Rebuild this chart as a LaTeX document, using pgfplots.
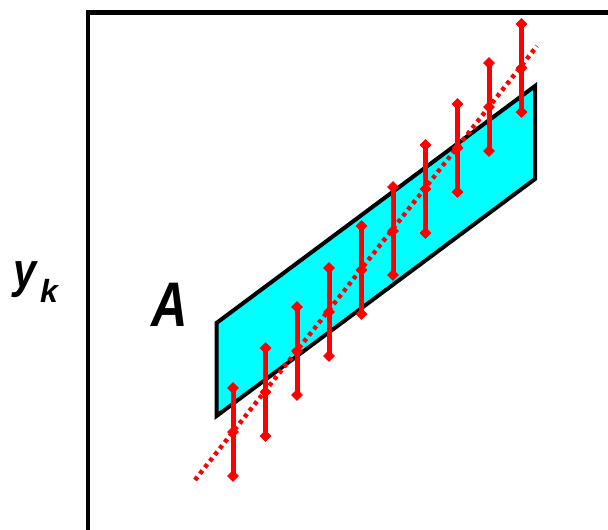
\documentclass[border=0pt]{standalone}
\usepackage{pgfplots}
\pgfplotsset{compat=1.18}
\usepackage{fontspec}
\setmainfont{Liberation Sans}
\definecolor{bandfill}{RGB}{0,255,255}
\definecolor{meas}{RGB}{255,0,0}

\begin{document}
\begin{tikzpicture}
\useasboundingbox (0,0) rectangle (608pt,530pt);
\begin{axis}[
  at={(0,0)}, anchor=south west,
  x=1pt, y=1pt,
  xmin=0, xmax=608, ymin=0, ymax=530,
  hide axis,
  clip=true,
]
% frame: left and top sides of the plotting box
\addplot[black, line width=4.5pt, line join=miter, no marks]
  coordinates {(88,-20) (88,517.5) (640,517.5)};

% feasible band A
\addplot[fill=bandfill, draw=black, line width=4pt, line join=miter, no marks]
  coordinates {(216.5,207) (216.5,114) (535,351) (535,444)} -- cycle;

% fitted trend
\addplot[meas, line width=4.5pt, dash pattern=on 4pt off 4pt, no marks]
  coordinates {(195,50) (537,484)};

% measurements y_k with their uncertainty intervals
\addplot[meas, only marks, mark=square*, mark size=3.8pt,
  mark options={rotate=45, line width=0.6pt, fill=meas},
  error bars/.cd, y dir=both, y fixed=44,
  error bar style={line width=5pt, meas},
  error mark=square*,
  error mark options={rotate=45, mark size=3.8pt, meas, fill=meas, line width=0.6pt}]
  coordinates {
    (233,98) (265.5,138) (297,179) (329,218) (361.5,260)
    (393,299) (425.5,341) (457.5,382) (489,423) (521.5,462)
  };

\node[anchor=base, inner sep=0pt] at (axis cs:25.5,242.4)
  {\scalebox{0.85}[1]{\fontsize{49}{49}\selectfont\bfseries\itshape y}};
\node[anchor=base, inner sep=0pt] at (axis cs:49,227)
  {\fontsize{32}{32}\selectfont\bfseries\itshape k};
\node[anchor=base, inner sep=0pt] at (axis cs:170,203)
  {\scalebox{0.8}[1]{\fontsize{63}{63}\selectfont\bfseries\itshape A}};
\end{axis}
\end{tikzpicture}
\end{document}
